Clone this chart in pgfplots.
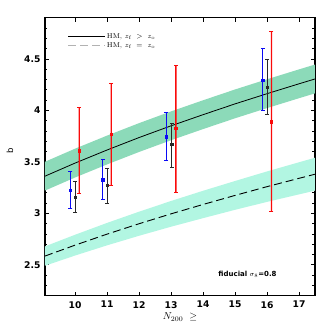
\documentclass[border=0pt]{standalone}
\usepackage{pgfplots}
\pgfplotsset{compat=1.18}
\usepackage{fontspec}
\newfontfamily\dejavu{DejaVu Sans}
\definecolor{bandA}{RGB}{140,218,185}
\definecolor{bandB}{RGB}{178,246,226}
\definecolor{myred}{RGB}{250,10,10}
\definecolor{myblue}{RGB}{10,10,245}
\definecolor{mygray}{RGB}{40,40,40}
\begin{document}
\begin{tikzpicture}
\begin{axis}[
  scale only axis, width=270pt, height=278pt,
  xmin=9.06, xmax=17.5, ymin=2.2, ymax=4.9,
  xtick={10,11,...,17}, ytick={2.5,3,3.5,4,4.5},
  minor ytick={2.3,2.4,2.6,2.7,2.8,2.9,3.1,3.2,3.3,3.4,3.6,3.7,3.8,3.9,4.1,4.2,4.3,4.4,4.6,4.7,4.8},
  tick align=inside, major tick length=4pt, minor tick length=2.5pt,
  axis line style={line width=1.1pt}, tick style={line width=0.7pt, black},
  ticklabel style={font=\dejavu\bfseries\fontsize{9.2}{10}\selectfont},
  /pgf/number format/assume math mode=true,
  xticklabel style={yshift=-2pt}, yticklabel style={xshift=-1pt},
  xlabel={$N_{200}\ \geq$},
  xlabel style={at={(axis description cs:0.5,-0.077)}, anchor=center, font=\fontsize{10}{11}\selectfont},
  ylabel={b},
  ylabel style={at={(axis description cs:-0.13,0.52)}, anchor=center, font=\dejavu\fontsize{8.5}{9}\selectfont},
  legend style={at={(rel axis cs:0.084,0.948)}, anchor=north west, draw=none, fill=none,
    font=\fontsize{7}{8}\selectfont, row sep=1pt, inner sep=0pt,
    nodes={inner sep=1pt, anchor=west}},
  legend cell align=left,
  legend image code/.code={\draw[#1] (0pt,0pt) -- (37pt,0pt);},
  clip=true, unbounded coords=jump,
]
% upper band (z_f > z_o)
\addplot[fill=bandA, draw=none, forget plot] coordinates {
 (9.06,3.501) (10,3.628) (11,3.755) (12,3.876) (13,3.990) (14,4.098) (15,4.203) (16,4.302) (17,4.398) (17.5,4.445)
 (17.5,4.165) (17,4.118) (16,4.022) (15,3.923) (14,3.818) (13,3.710) (12,3.596) (11,3.475) (10,3.348) (9.06,3.221)};
% lower band (z_f = z_o)
\addplot[fill=bandB, draw=none, forget plot] coordinates {
 (9.06,2.679) (10,2.792) (11,2.907) (12,3.016) (13,3.120) (14,3.219) (15,3.314) (16,3.407) (17,3.496) (17.5,3.540)
 (17.5,3.220) (17,3.184) (16,3.111) (15,3.034) (14,2.953) (13,2.870) (12,2.782) (11,2.689) (10,2.590) (9.06,2.491)};
\addlegendimage{black, line width=0.8pt}
\addlegendentry{HM, $z_{\rm f}\ >\ z_{\rm o}$}
\addlegendimage{gray!60, line width=1pt, dash pattern=on 8pt off 4pt}
\addlegendentry{HM, $z_{\rm f}\ =\ z_{\rm o}$}
% solid line
\addplot[black, line width=0.8pt, forget plot] coordinates {
 (9.06,3.361) (10,3.488) (11,3.615) (12,3.736) (13,3.850) (14,3.958) (15,4.063) (16,4.162) (17,4.258) (17.5,4.305)};
% dashed line
\addplot[black, line width=0.9pt, dash pattern=on 8pt off 4pt, forget plot] coordinates {
 (9.06,2.585) (10,2.691) (11,2.798) (12,2.899) (13,2.995) (14,3.086) (15,3.174) (16,3.259) (17,3.340) (17.5,3.380)};
% blue error bars
\addplot[myblue, line width=1pt, forget plot] coordinates {
 (9.85,3.045) (9.85,3.410) (9.85,nan)
 (10.86,3.137) (10.86,3.520) (10.86,nan)
 (12.85,3.510) (12.85,3.984) (12.85,nan)
 (15.86,3.997) (15.86,4.600)};
% black error bars
\addplot[mygray, line width=1pt, forget plot] coordinates {
 (10.0,3.010) (10.0,3.308) (10.0,nan)
 (11.0,3.100) (11.0,3.435) (11.0,nan)
 (13.02,3.450) (13.02,3.877) (13.02,nan)
 (16.0,3.960) (16.0,4.497)};
% red error bars (thin filled strips, centred on the bar x, from low to high end)
\addplot[fill=myred, draw=none, forget plot] coordinates {
 (10.108,3.191) (10.152,3.191) (10.152,4.029) (10.108,4.029) (10.108,nan)
 (11.108,3.273) (11.152,3.273) (11.152,4.262) (11.108,4.262) (11.108,nan)
 (13.128,3.208) (13.172,3.208) (13.172,4.440) (13.128,4.440) (13.128,nan)
 (16.118,3.023) (16.162,3.023) (16.162,4.770) (16.118,4.770)};
% caps
\addplot[myred, only marks, mark=-, mark size=2pt, mark options={line width=0.8pt}, forget plot] coordinates {
 (10.13,3.191) (10.13,4.029) (11.13,3.273) (11.13,4.262) (13.15,3.208) (13.15,4.440) (16.14,3.023) (16.14,4.770)};
\addplot[myblue, only marks, mark=-, mark size=2pt, mark options={line width=0.8pt}, forget plot] coordinates {
 (9.85,3.045) (9.85,3.410) (10.86,3.137) (10.86,3.520) (12.85,3.510) (12.85,3.984) (15.86,3.997) (15.86,4.600)};
\addplot[mygray, only marks, mark=-, mark size=2pt, mark options={line width=0.8pt}, forget plot] coordinates {
 (10.0,3.010) (10.0,3.308) (11.0,3.100) (11.0,3.435) (13.02,3.450) (13.02,3.877) (16.0,3.960) (16.0,4.497)};
% points
\addplot[myred, only marks, mark=square*, mark size=1.2pt, forget plot] coordinates {
 (10.13,3.61) (11.13,3.77) (13.15,3.828) (16.14,3.89)};
\addplot[myblue, only marks, mark=square*, mark size=1.2pt, forget plot] coordinates {
 (9.85,3.227) (10.86,3.328) (12.85,3.746) (15.86,4.295)};
\addplot[mygray, only marks, mark=square*, mark size=1.2pt, forget plot] coordinates {
 (10.0,3.159) (11.0,3.273) (13.02,3.672) (16.0,4.224)};
\node[font=\dejavu\bfseries\fontsize{7}{8}\selectfont] at (axis cs:15.39,2.403) {fiducial $\sigma_8$=0.8};
\end{axis}
\path ([shift={(-45pt,-36.3pt)}]current axis.south west) rectangle ([shift={(17pt,17.7pt)}]current axis.north east);
\end{tikzpicture}
\end{document}
